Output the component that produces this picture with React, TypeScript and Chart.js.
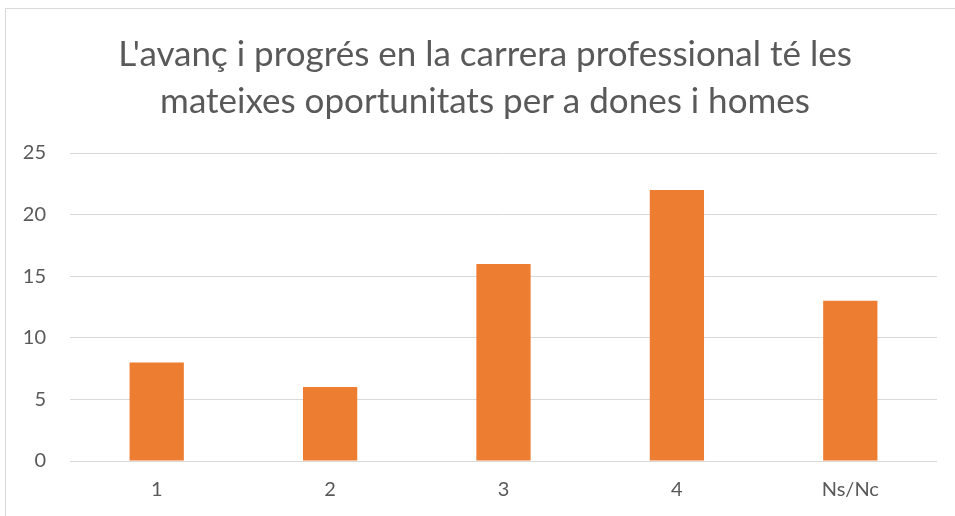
import React, { useEffect, useRef } from "react";
import { Chart, registerables } from "chart.js";

Chart.register(...registerables);

const categories = ["1", "2", "3", "4", "Ns/Nc"];
const values = [8, 6, 16, 22, 13];
const titleLines = [
  "L'avanç i progrés en la carrera professional té les",
  "mateixes oportunitats per a dones i homes",
];
const yMin = 0;
const yMax = 25;
const yStep = 5;

const titleShift = {
  id: "titleShift",
  afterLayout(chart: any) {
    const t = chart.titleBlock;
    if (t) {
      t.left = 27;
    }
  },
};

export default function App() {
  const ref = useRef<HTMLCanvasElement | null>(null);

  useEffect(() => {
    if (!ref.current) return;
    const chart = new Chart(ref.current, {
      type: "bar",
      data: {
        labels: categories,
        datasets: [
          {
            data: values,
            backgroundColor: "#ED7D31",
            borderWidth: 0,
            barPercentage: 0.313,
            categoryPercentage: 1,
          },
        ],
      },
      options: {
        responsive: true,
        maintainAspectRatio: false,
        animation: false,
        layout: { padding: { left: 0, right: 22, top: 0, bottom: 0 } },
        plugins: {
          legend: { display: false },
          tooltip: { enabled: false },
          title: {
            display: true,
            text: titleLines,
            color: "#595959",
            font: { family: "Lato", size: 35, weight: "normal", lineHeight: 1.343 },
            padding: { top: 22, bottom: 28 },
          },
        },
        scales: {
          x: {
            grid: { display: false, drawTicks: false },
            border: { display: false },
            ticks: {
              color: "#595959",
              font: { family: "Lato", size: 20 },
              padding: 17,
            },
            afterFit: (s: any) => {
              s.height = 62;
            },
          },
          y: {
            min: yMin,
            max: yMax,
            grid: { color: "#d9d9d9", lineWidth: 1, drawTicks: false },
            border: { display: false },
            ticks: {
              stepSize: yStep,
              color: "#595959",
              font: { family: "Lato", size: 20 },
              padding: 24,
            },
            afterFit: (s: any) => {
              s.width = 64;
            },
          },
        },
      },
      plugins: [titleShift],
    });
    return () => chart.destroy();
  }, []);

  return (
    <div
      style={{
        position: "absolute",
        left: 5,
        top: 8,
        width: 955,
        height: 516,
        border: "1px solid #d9d9d9",
        boxSizing: "border-box",
        background: "#fff",
      }}
    >
      <div style={{ position: "relative", width: 953, height: 514 }}>
        <canvas ref={ref} />
      </div>
    </div>
  );
}
